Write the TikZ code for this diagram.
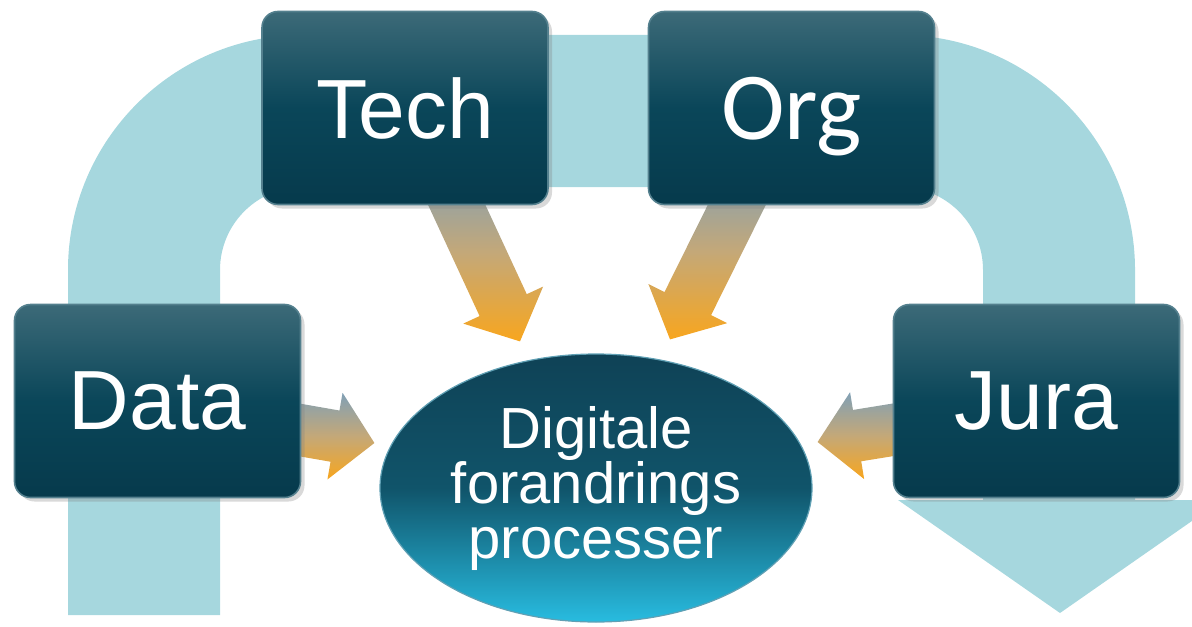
\documentclass[tikz,border=0pt]{standalone}
\usepackage{fontspec}
\setmainfont{Liberation Sans}
\newfontfamily\orgfont{Carlito}
\usetikzlibrary{calc,shapes.geometric,shadows}

\definecolor{bandblue}{RGB}{166,215,222}
\definecolor{boxtop}{RGB}{60,106,120}
\definecolor{boxmid}{RGB}{10,70,89}
\definecolor{boxbot}{RGB}{6,58,76}
\definecolor{boxedge}{RGB}{84,128,142}
\definecolor{proctop}{RGB}{15,66,86}
\definecolor{procmid}{RGB}{16,84,106}
\definecolor{procbot}{RGB}{40,188,224}
\definecolor{procedge}{RGB}{96,160,180}
\definecolor{flowgrey}{RGB}{128,160,182}
\definecolor{flowtan}{RGB}{196,168,120}
\definecolor{floworange}{RGB}{248,166,30}

\pgfdeclarelayer{back}
\pgfsetlayers{back,main}

\tikzset{
  topic/.style={rectangle, rounded corners=8pt,
    minimum width=143pt, minimum height=96.5pt, inner sep=0pt,
    top color=boxtop, bottom color=boxbot, middle color=boxmid,
    draw=boxedge, line width=0.8pt, text=white, text depth=0pt,
    font=\fontsize{42}{42}\selectfont,
    drop shadow={opacity=0.3, shadow xshift=2pt, shadow yshift=-2pt}},
  hub/.style={ellipse, minimum width=216pt, minimum height=134pt, inner sep=0pt,
    top color=proctop, bottom color=procbot, middle color=procmid,
    draw=procedge, line width=0.6pt, text=white, align=center,
    font=\fontsize{29}{27.5}\selectfont},
  flowfill/.style={top color=flowgrey, bottom color=floworange, middle color=flowtan},
}

\begin{document}
\begin{tikzpicture}[x=0.5pt, y=-0.5pt]
\useasboundingbox (0,0) rectangle (1192,626);

\node[topic] (tech) at (405,108) {Tech};
\node[topic] (org) at (791.5,108) {\orgfont\fontsize{48}{48}\selectfont Org};
\node[topic] (data) at (157.5,401) {Data};
\node[topic] (jura) at (1036.5,401) {Jura};
\node[hub] (proc) at (596,488) {Digitale\\forandrings\\processer};

% arrow ends: under the boxes and just off the ellipse
\coordinate (techout) at ($(tech.south)+(38,-30)$);
\coordinate (techin) at ($(proc.north)+(-76,-12)$);
\coordinate (orgout) at ($(org.south)+(-40,-30)$);
\coordinate (orgin) at ($(proc.north)+(74,-14)$);
\coordinate (dataout) at ($(data.east)+(-30,24)$);
\coordinate (datain) at ($(proc.west)+(-5,-45)$);
\coordinate (juraout) at ($(jura.west)+(30,24)$);
\coordinate (jurain) at ($(proc.east)+(5,-46)$);

\begin{pgfonlayer}{back}
% the big turning band
\fill[bandblue] (68,615) -- (68,270) arc[start angle=180, end angle=270, radius=235]
  -- (900,35) arc[start angle=270, end angle=360, radius=235]
  -- (1135,500) -- (1222,500) -- (1060,613) -- (898,500) -- (983,500)
  -- (983,270) arc[start angle=0, end angle=-90, radius=83]
  -- (303,187) arc[start angle=270, end angle=180, radius=83]
  -- (220,615) -- cycle;
\foreach \a/\b in {techout/techin, orgout/orgin, dataout/datain, juraout/jurain}
  \shade[flowfill] ($(\a)!13pt!90:(\b)$)
    -- ($(\b)!20pt!(\a)!13pt!90:(\b)$)
    -- ($(\b)!20pt!(\a)!22pt!90:(\b)$)
    -- (\b)
    -- ($(\b)!20pt!(\a)!22pt!-90:(\b)$)
    -- ($(\b)!20pt!(\a)!13pt!-90:(\b)$)
    -- ($(\a)!13pt!-90:(\b)$) -- cycle;
\end{pgfonlayer}
\end{tikzpicture}
\end{document}
